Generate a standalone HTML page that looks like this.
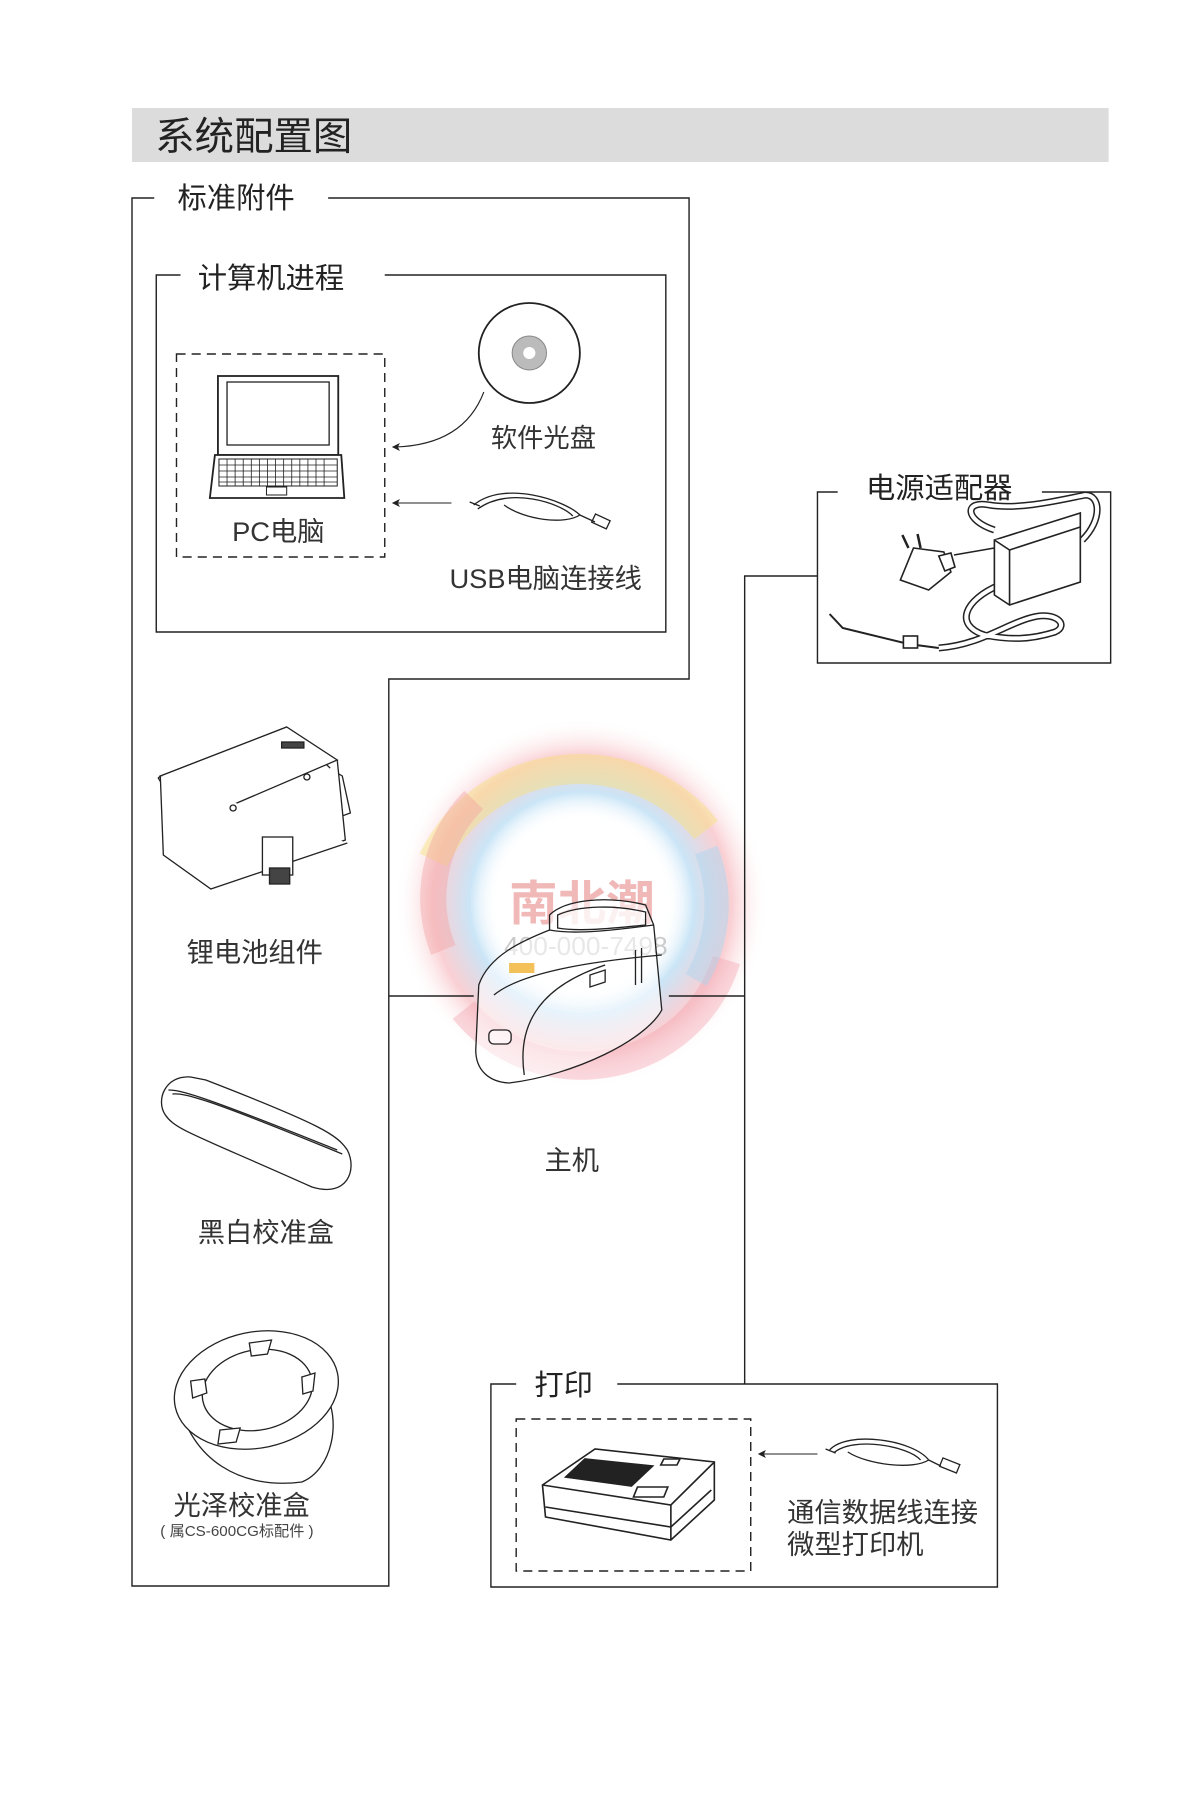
<!DOCTYPE html>
<html><head><meta charset="utf-8">
<style>
html,body{margin:0;padding:0;background:#fff;}
svg{display:block;}
text{font-family:"Liberation Sans","Noto Sans CJK SC",sans-serif;}
</style></head>
<body>
<svg width="1200" height="1810" viewBox="0 0 1200 1810" xmlns="http://www.w3.org/2000/svg">
<defs>
<radialGradient id="wm" cx="0.5" cy="0.5" r="0.5">
<stop offset="0.45" stop-color="#fff" stop-opacity="0"/>
<stop offset="0.6" stop-color="#9fd0f0" stop-opacity="0.55"/>
<stop offset="0.8" stop-color="#f4a0a8" stop-opacity="0.5"/>
<stop offset="1" stop-color="#fff" stop-opacity="0"/>
</radialGradient>
</defs>
<g transform="translate(-1.45,0) scale(1.011,1)">
<rect x="132" y="108" width="966" height="54" fill="#dcdcdd"/>
<text x="155" y="150" font-size="39" fill="#222">系统配置图</text>

<circle cx="577" cy="903" r="185" fill="url(#wm)"/>
<path d="M430 860 A160 160 0 0 1 700 830" stroke="#f6e27a" stroke-width="30" fill="none" opacity="0.45"/>
<path d="M460 1010 A150 150 0 0 0 720 960" stroke="#f3a3ae" stroke-width="28" fill="none" opacity="0.4"/>
<path d="M440 950 A140 140 0 0 1 470 800" stroke="#f3a0a0" stroke-width="26" fill="none" opacity="0.4"/>
<path d="M700 850 A150 150 0 0 1 690 980" stroke="#a8d4f0" stroke-width="24" fill="none" opacity="0.45"/>
<text x="505" y="920" font-size="48" fill="#e88a8a" opacity="0.6" font-weight="bold">南北潮</text>
<text x="500" y="955" font-size="26" fill="#aaa" opacity="0.6">400-000-7498</text>

<g stroke="#222" stroke-width="1.4" fill="none">
<path d="M154 198 H132 V1586 H386 V679 H683 V198 H326"/>
<path d="M180 275 H156 V632 H660 V275 H382"/>
<rect x="176" y="354" width="206" height="203" stroke-dasharray="9,6"/>
<path d="M830 492 H810 V663 H1100 V492 H1032"/>
<path d="M810 576 H738 V1384"/>
<path d="M386 996 H470"/>
<path d="M663 996 H738"/>
<path d="M512 1384 H487 V1587 H988 V1384 H612"/>
<rect x="512" y="1419" width="232" height="152" stroke-dasharray="9,6"/>
</g>

<text x="177" y="208" font-size="29" fill="#222">标准附件</text>
<text x="197" y="288" font-size="29" fill="#222">计算机进程</text>
<text x="858" y="498" font-size="29" fill="#222">电源适配器</text>
<text x="530" y="1395" font-size="29" fill="#222">打印</text>

<g stroke="#222" stroke-width="1.8" fill="#fff">
<rect x="217" y="376" width="119" height="79"/>
<rect x="226" y="382" width="101" height="63" stroke-width="1.3"/>
<path d="M214 455 H339 L342 498 H209 Z"/>
<rect x="218" y="459" width="117" height="27" stroke-width="1"/>
<rect x="265" y="487" width="20" height="8" stroke-width="1"/>
</g>
<g stroke="#222" stroke-width="0.8">
<path d="M218 465 H335 M218 471 H335 M218 477 H335 M218 482 H335"/>
<path d="M226 459 V486 M234 459 V486 M242 459 V486 M250 459 V486 M258 459 V486 M266 459 V486 M274 459 V486 M282 459 V486 M290 459 V486 M298 459 V486 M306 459 V486 M314 459 V486 M322 459 V486"/>
</g>
<text x="231" y="541" font-size="27" fill="#333">PC电脑</text>

<circle cx="525" cy="353" r="50" fill="#fff" stroke="#222" stroke-width="1.8"/>
<circle cx="525" cy="353" r="17" fill="#bbb" stroke="#888"/>
<circle cx="525" cy="353" r="6" fill="#fff"/>
<text x="487" y="447" font-size="26" fill="#333">软件光盘</text>

<g stroke="#222" stroke-width="1.1" fill="none">
<path d="M480 392 Q460 445 392 447"/>
<path d="M448 503 H392"/>
<path d="M810 1454 H754"/>
</g>
<g fill="#222">
<path d="M389 447 l8 -4 l-2 4 l2 4z"/>
<path d="M389 503 l8 -4 l-2 4 l2 4z"/>
<path d="M751 1454 l8 -4 l-2 4 l2 4z"/>
</g>

<g stroke="#222" stroke-width="1.3" fill="none">
<path d="M470 505 C500 480 560 500 575 515 C560 525 520 520 500 505"/>
<path d="M474 509 C505 486 556 503 568 516"/>
<path d="M575 515 L590 522"/>
<rect x="588" y="517" width="16" height="9" transform="rotate(25 596 521)"/>
<path d="M466 502 l10 4"/>
</g>
<text x="446" y="588" font-size="27" fill="#333">USB电脑连接线</text>

<g stroke="#222" stroke-width="1.6" fill="none">
<path d="M985 530 C955 520 955 500 980 505 C1010 510 1050 500 1075 495 C1090 495 1092 520 1072 540" stroke-width="7"/>
<path d="M985 530 C955 520 955 500 980 505 C1010 510 1050 500 1075 495 C1090 495 1092 520 1072 540" stroke="#fff" stroke-width="4"/>
<path d="M990 585 C955 600 945 625 975 635 C1000 640 1020 640 1045 632 C1060 625 1045 610 1020 618 C995 625 970 645 930 648" stroke-width="7"/>
<path d="M990 585 C955 600 945 625 975 635 C1000 640 1020 640 1045 632 C1060 625 1045 610 1020 618 C995 625 970 645 930 648" stroke="#fff" stroke-width="4"/>
<path d="M930 648 L900 644 L835 628 L822 614" stroke-width="2"/>
<rect x="895" y="636" width="14" height="12" fill="#fff"/>
</g>
<g stroke="#222" stroke-width="1.6" fill="#fff">
<path d="M985 540 L1070 513 L1070 582 L1000 605 L985 595 Z"/>
<path d="M985 540 L1000 550 L1070 527"/>
<path d="M1000 550 V605"/>
<path d="M945 555 L985 548" fill="none"/>
<path d="M905 548 L935 552 L942 572 L920 590 L892 580 Z"/>
<path d="M930 556 l12 -3 l4 14 l-10 4 Z"/>
<path d="M900 548 l-6 -13 M912 548 l-3 -14" fill="none" stroke-width="2.5"/>
</g>

<g stroke="#222" stroke-width="1.3" fill="#fff">
<path d="M158 778 L210 864 L348 813 L340 776 L330 770 L285 727 L160 776 Z"/>
<path d="M160 776 L285 727 L335 760 L215 812 Z"/>
<path d="M215 812 L226 874 M226 812 L232 872"/>
<path d="M335 760 L343 840 L232 880"/>
<path d="M160 776 L163 855 L210 889 L345 843"/>
<rect x="261" y="837" width="30" height="38"/>
<rect x="268" y="868" width="20" height="16" fill="#444"/>
<rect x="280" y="742" width="22" height="6" fill="#444"/>
<circle cx="232" cy="808" r="3"/><circle cx="305" cy="777" r="3"/>
</g>
<text x="186" y="962" font-size="27" fill="#333">锂电池组件</text>

<g stroke="#222" stroke-width="1.3" fill="#fff">
<path d="M190 1077 C165 1075 155 1100 165 1115 C175 1130 195 1135 310 1187 C345 1198 355 1170 345 1150 C335 1135 320 1125 205 1080 Z"/>
<path d="M168 1090 C180 1090 200 1095 335 1150" fill="none"/>
<path d="M172 1094 C185 1093 205 1098 340 1154" fill="none"/>
</g>
<text x="197" y="1242" font-size="27" fill="#333">黑白校准盒</text>

<g stroke="#222" stroke-width="1.3" fill="#fff">
<path d="M178 1400 C190 1460 240 1490 300 1482 C330 1470 340 1420 322 1390"/>
<ellipse cx="255" cy="1390" rx="82" ry="58" transform="rotate(-12 255 1390)"/>
<ellipse cx="256" cy="1390" rx="55" ry="40" transform="rotate(-12 256 1390)"/>
<path d="M248 1343 l22 -3 l-4 14 l-16 2 Z"/>
<path d="M190 1381 l14 -2 l2 14 l-14 5 Z"/>
<path d="M300 1377 l13 -4 l-2 18 l-10 3 Z"/>
<path d="M219 1430 l20 -2 l-4 14 l-18 2 Z"/>
</g>
<text x="173" y="1515" font-size="27" fill="#333">光泽校准盒</text>
<text x="160" y="1536" font-size="15" fill="#444">( 属CS-600CG标配件 )</text>

<g stroke="#222" stroke-width="1.3" fill="#fff" fill-opacity="0.55">
<path d="M475 985 C485 955 520 940 545 930 L545 915 C560 900 600 895 640 905 L648 925 L656 1010 C640 1040 570 1075 505 1083 C485 1082 472 1070 472 1050 Z"/>
<path d="M545 930 C570 935 610 930 648 925" fill="none"/>
<path d="M553 915 C575 905 610 905 640 912 L640 925 C610 928 575 932 553 928 Z"/>
<path d="M490 995 C520 970 600 960 656 955" fill="none"/>
<path d="M520 1075 C512 1020 540 985 600 965" fill="none"/>
<rect x="485" y="1030" width="22" height="14" rx="5"/>
<path d="M585 975 l15 -5 v12 l-15 5 z"/>
<path d="M630 950 v35 M636 948 v35" fill="none"/>
</g>
<rect x="505" y="963" width="25" height="10" fill="#f0b030" opacity="0.8"/>
<text x="540" y="1170" font-size="27" fill="#333">主机</text>

<g stroke="#222" stroke-width="1.6" fill="#fff">
<path d="M538 1485 L590 1449 L708 1462 L708 1500 L665 1540 L541 1517 Z"/>
<path d="M538 1485 L665 1505 L708 1462"/>
<path d="M541 1507 L665 1527 L705 1490" fill="none"/>
<path d="M665 1505 V1540"/>
<path d="M561 1477 L580 1459 L647 1466 L626 1486 Z" fill="#222"/>
<path d="M658 1459 h16 l-3 6 h-16 z"/>
<path d="M632 1487 h30 l-4 10 h-30 z"/>
</g>

<g stroke="#222" stroke-width="1.3" fill="none">
<path d="M822 1450 C840 1430 905 1440 920 1460 C905 1470 860 1465 840 1452"/>
<path d="M826 1453 C845 1436 900 1446 912 1460"/>
<path d="M920 1460 L932 1466"/>
<rect x="932" y="1461" width="18" height="9" transform="rotate(22 941 1465)"/>
<path d="M818 1449 l10 4"/>
</g>
<text x="780" y="1522" font-size="27" fill="#333">通信数据线连接</text>
<text x="780" y="1554" font-size="27" fill="#333">微型打印机</text>
</g>
</svg>
</body></html>
